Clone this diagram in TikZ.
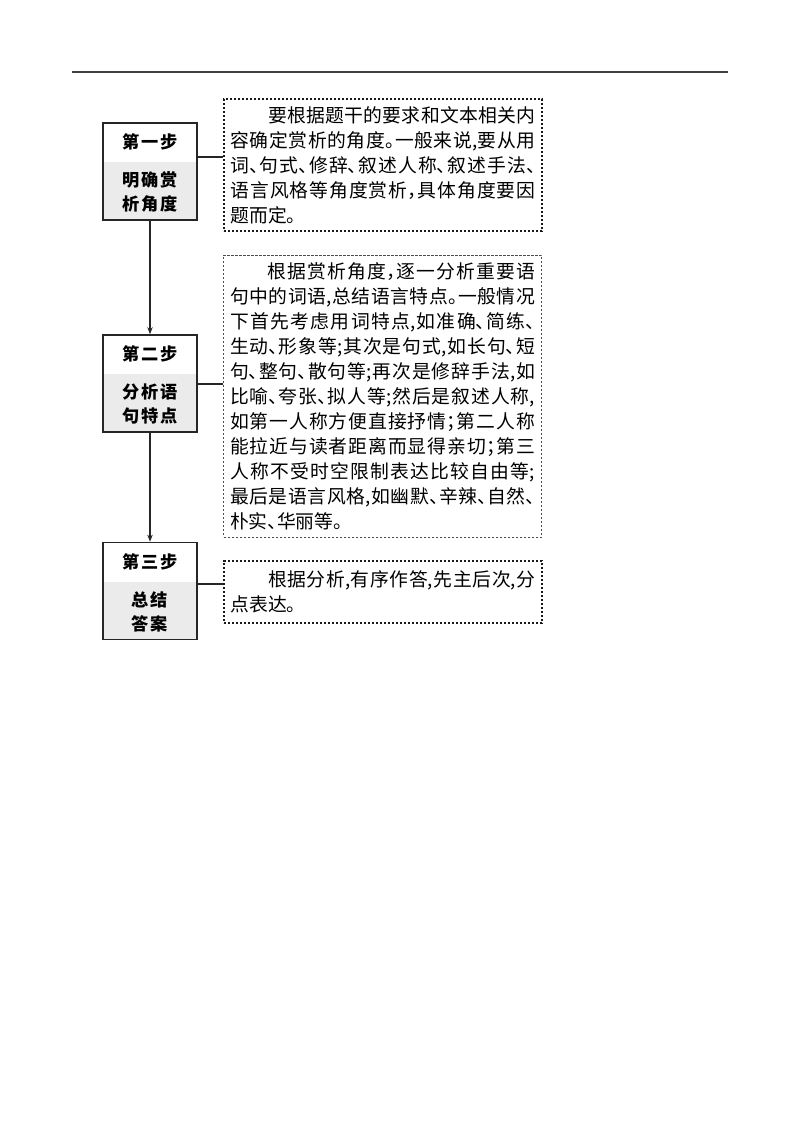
\documentclass[tikz,border=0pt]{standalone}
\usepackage{fontspec}
\setmainfont{Noto Sans CJK SC}[RawFeature=+halt]
\usetikzlibrary{arrows.meta}
\XeTeXlinebreaklocale "zh"
\XeTeXlinebreakskip=0pt plus 4pt minus 0.3pt
\XeTeXlinebreakpenalty=10000
\definecolor{stepgray}{HTML}{EBEBEB}
\newcommand{\bodyfnt}{\fontsize{18.8}{25}\selectfont}
\newcommand{\stepfnt}{\fontsize{17.2}{24}\selectfont\bfseries}
\begin{document}
\begin{tikzpicture}[x=1pt,y=-1pt,
  stepbox/.style={draw=black!85, line width=1.7pt, minimum width=94pt, minimum height=97pt, inner sep=0pt,
    path picture={\fill[stepgray] ([yshift=-39pt]path picture bounding box.north west) rectangle (path picture bounding box.south east);}},
  steptitle/.style={font=\stepfnt, inner sep=0pt},
  stepbody/.style={font=\stepfnt, align=center, inner sep=0pt},
  textbox/.style={text width=305pt, inner xsep=6.5pt, inner ysep=0pt, font=\bodyfnt, align=justify, text=black},
  dotbox/.style={draw=black!90, line width=1.3pt, dash pattern=on 2.4pt off 1.6pt},
  dashbox/.style={draw=black!70, line width=0.7pt, dash pattern=on 2.2pt off 1.8pt},
  conn/.style={draw=black!85, line width=1.2pt},
  arr/.style={draw=black!85, line width=1.2pt, -{Stealth[length=7pt,width=5.5pt]}},
  rule/.style={draw=black!75, line width=1.5pt}
]
\useasboundingbox (0,0) rectangle (800,1132);
\coordinate (rl) at (72,72);
\coordinate (rr) at (728,72);
\draw[rule] (rl) -- (rr);

% step boxes
\node[stepbox] (s1) at (150,171.5) {};
\node[stepbox] (s2) at (150,383.5) {};
\node[stepbox] (s3) at (150,591) {};

\node[steptitle] (s1t) at ([yshift=-20pt]s1.north) {第\kern2pt 一\kern2pt 步};
\node[stepbody] (s1b) at ([yshift=28.5pt]s1.south) {明\kern2pt 确\kern2pt 赏\\[0pt]析\kern2pt 角\kern2pt 度};
\node[steptitle] (s2t) at ([yshift=-20pt]s2.north) {第\kern2pt 二\kern2pt 步};
\node[stepbody] (s2b) at ([yshift=28.5pt]s2.south) {分\kern2pt 析\kern2pt 语\\[0pt]句\kern2pt 特\kern2pt 点};
\node[steptitle] (s3t) at ([yshift=-20pt]s3.north) {第\kern2pt 三\kern2pt 步};
\node[stepbody] (s3b) at ([yshift=28pt]s3.south) {总\kern2pt 结\\[0pt]答\kern2pt 案};

% text boxes
\node[textbox, dotbox, minimum height=132pt] (t1) at (383,165) {\hspace*{2em}要根据题干的要求和文本相关内\linebreak 容确定赏析的角度。一般来说,要从用\linebreak 词、句式、修辞、叙述人称、叙述手法、\linebreak 语言风格等角度赏析，具体角度要因\linebreak 题而定。};

\node[textbox, dashbox, minimum height=282pt] (t2) at (382.5,396) {\hspace*{2em}根据赏析角度，逐一分析重要语\linebreak 句中的词语,总结语言特点。一般情况\linebreak 下首先考虑用词特点,如准确、简练、\linebreak 生动、形象等;其次是句式,如长句、短\linebreak 句、整句、散句等;再次是修辞手法,如\linebreak 比喻、夸张、拟人等;然后是叙述人称,\linebreak 如第一人称方便直接抒情；第二人称\linebreak 能拉近与读者距离而显得亲切；第三\linebreak 人称不受时空限制表达比较自由等;\linebreak 最后是语言风格,如幽默、辛辣、自然、\linebreak 朴实、华丽等。};

\node[textbox, dotbox, minimum height=62pt] (t3) at (383,592) {\hspace*{2em}根据分析,有序作答,先主后次,分\linebreak 点表达。};

% connectors
\coordinate (j1) at (150,157);
\coordinate (j2) at (150,384);
\coordinate (j3) at (150,584);
\draw[conn] (s1.east |- j1) -- (t1.west |- j1);
\draw[conn] (s2.east |- j2) -- (t2.west |- j2);
\draw[conn] (s3.east |- j3) -- (t3.west |- j3);

\draw[arr] (s1.south) -- (s2.north);
\draw[arr] (s2.south) -- (s3.north);
\end{tikzpicture}
\end{document}
